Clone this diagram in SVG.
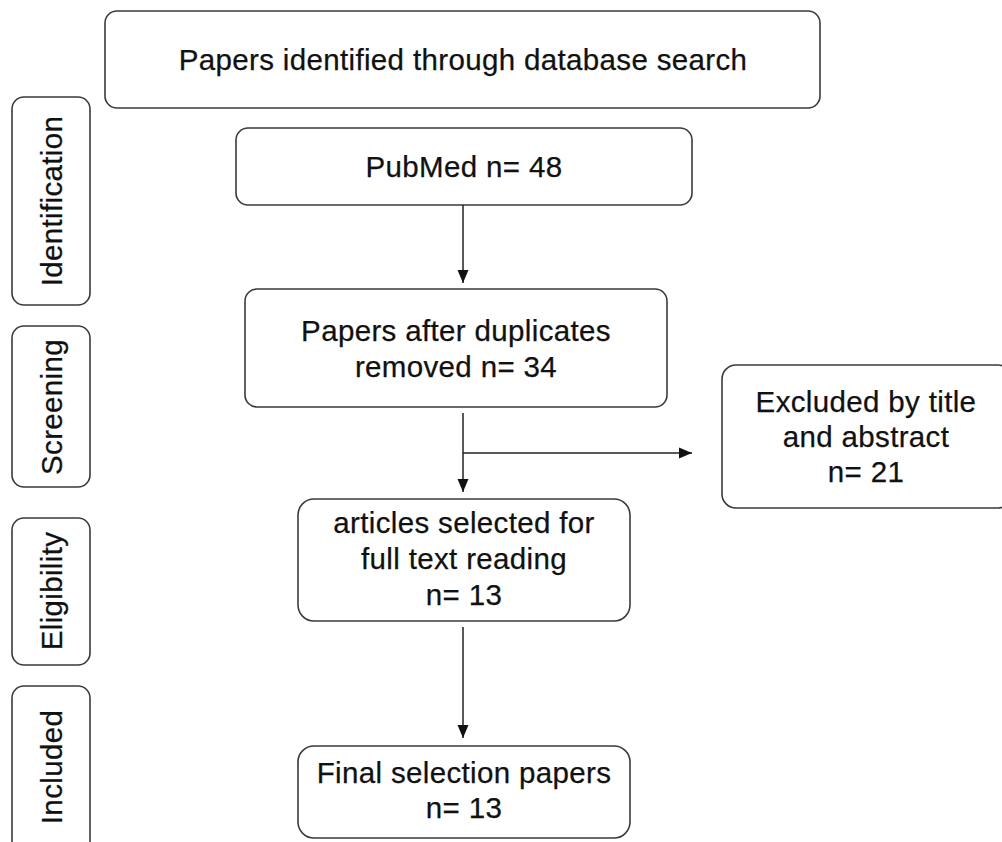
<svg xmlns="http://www.w3.org/2000/svg" width="1002" height="842" viewBox="0 0 1002 842">
<style>
  .box { fill: #ffffff; stroke: #3a3a3a; stroke-width: 1.6; }
  .t { font-family: "Liberation Sans", Arial, Helvetica, sans-serif; font-size: 29.5px; letter-spacing: 0.35px; fill: #111111; stroke: #111111; stroke-width: 0.25; text-anchor: middle; }
  .conn { stroke: #222222; stroke-width: 1.5; fill: none; }
</style>
<defs>
  <marker id="arrow" markerUnits="userSpaceOnUse" markerWidth="13" markerHeight="12" viewBox="0 0 13 12" refX="13" refY="6" orient="auto">
    <path d="M0,0.5 L13,6 L0,11.5 Z" fill="#111111"/>
  </marker>
</defs>
<rect width="1002" height="842" fill="#ffffff"/>

<g id="stage-identification">
  <rect class="box" x="12" y="97" width="78" height="208" rx="12"/>
  <text class="t" transform="translate(62,201) rotate(-90)">Identification</text>
</g>
<g id="stage-screening">
  <rect class="box" x="12" y="326" width="78" height="161" rx="12"/>
  <text class="t" transform="translate(62,407) rotate(-90)">Screening</text>
</g>
<g id="stage-eligibility">
  <rect class="box" x="12" y="518" width="78" height="147" rx="12"/>
  <text class="t" transform="translate(62,591) rotate(-90)">Eligibility</text>
</g>
<g id="stage-included">
  <rect class="box" x="12" y="686" width="78" height="170" rx="12"/>
  <text class="t" transform="translate(62,767) rotate(-90)">Included</text>
</g>

<g id="node-database">
  <rect class="box" x="105" y="11" width="715" height="97" rx="12"/>
  <text class="t" x="463" y="70">Papers identified through database search</text>
</g>
<g id="node-pubmed">
  <rect class="box" x="236" y="128" width="456" height="77" rx="12"/>
  <text class="t" x="464" y="177">PubMed n= 48</text>
</g>
<g id="node-duplicates">
  <rect class="box" x="245" y="289" width="422" height="118" rx="12"/>
  <text class="t" x="456" y="341">Papers after duplicates</text>
  <text class="t" x="456" y="377">removed n= 34</text>
</g>
<g id="node-excluded">
  <rect class="box" x="722" y="365" width="290" height="143" rx="14"/>
  <text class="t" x="866" y="412">Excluded by title</text>
  <text class="t" x="866" y="447">and abstract</text>
  <text class="t" x="866" y="482">n= 21</text>
</g>
<g id="node-fulltext">
  <rect class="box" x="298" y="499" width="332" height="122" rx="16"/>
  <text class="t" x="464" y="533">articles selected for</text>
  <text class="t" x="464" y="569">full text reading</text>
  <text class="t" x="464" y="605">n= 13</text>
</g>
<g id="node-final">
  <rect class="box" x="298" y="746" width="332" height="92" rx="16"/>
  <text class="t" x="464" y="783">Final selection papers</text>
  <text class="t" x="464" y="818">n= 13</text>
</g>

<g id="connectors">
  <line class="conn" x1="463" y1="205" x2="463" y2="283" marker-end="url(#arrow)"/>
  <line class="conn" x1="463" y1="413" x2="463" y2="492" marker-end="url(#arrow)"/>
  <line class="conn" x1="463" y1="453" x2="692" y2="453" marker-end="url(#arrow)"/>
  <line class="conn" x1="463" y1="627" x2="463" y2="738" marker-end="url(#arrow)"/>
</g>
</svg>
